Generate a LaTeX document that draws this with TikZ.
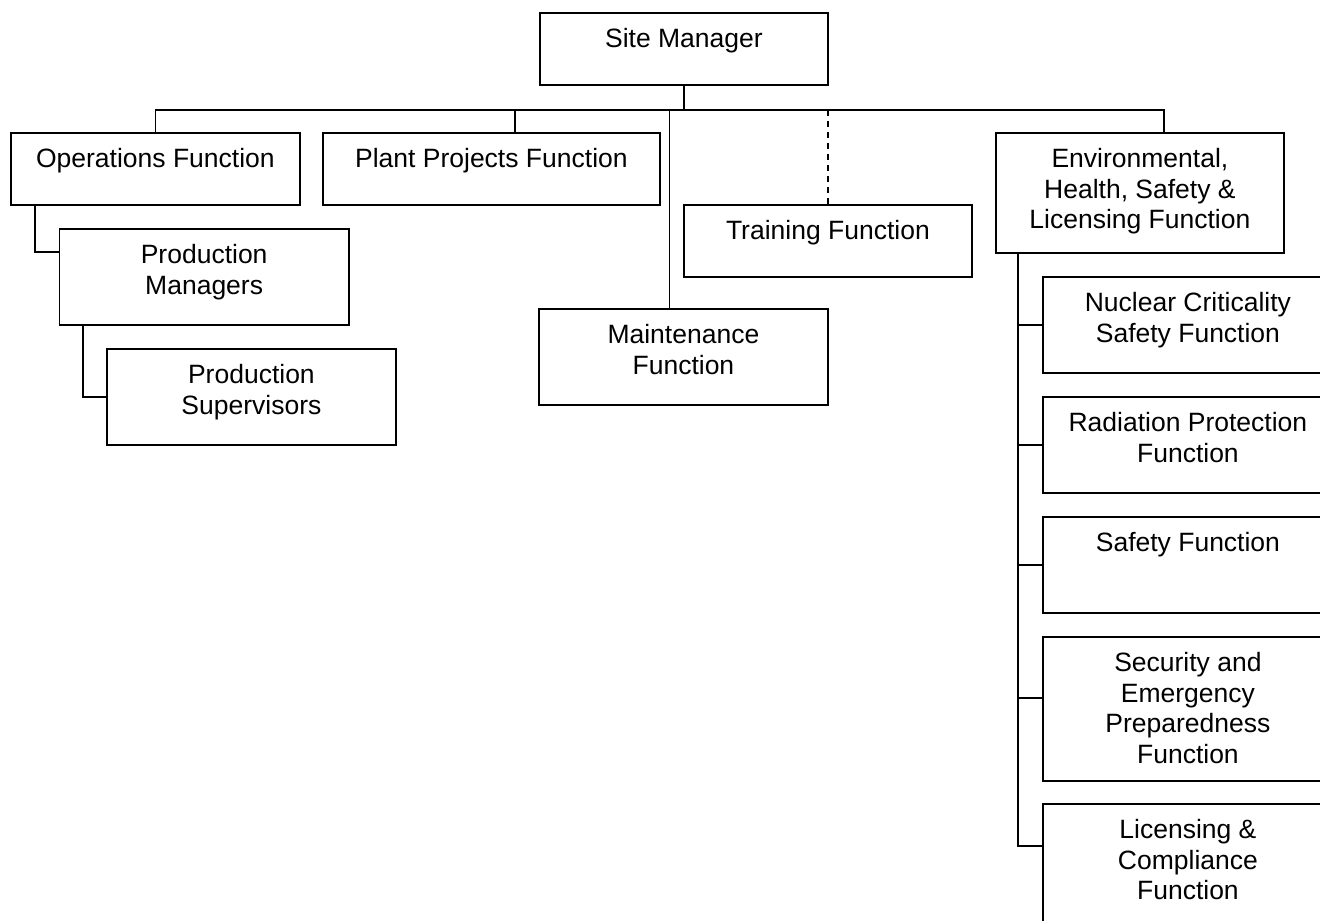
\documentclass[tikz,border=0pt]{standalone}
\usepackage{fontspec}
\setmainfont{Liberation Sans}
\usetikzlibrary{calc}
\begin{document}
\begin{tikzpicture}[x=0.5pt,y=-0.5pt,
  orgbox/.style={draw, line width=0.9pt, rectangle, inner sep=0pt, anchor=north west},
  lbl/.style={anchor=north, inner sep=0pt, align=center, font=\fontsize{13.25pt}{15.25pt}\selectfont},
  conn/.style={line width=0.9pt},
  dotconn/.style={line width=0.9pt, dash pattern=on 3pt off 2.5pt}]
\clip (0,0) rectangle (1320,920);
% boxes
\node[orgbox, minimum width=144pt, minimum height=36pt] (sm) at (539,12) {};
\node[orgbox, minimum width=144.5pt, minimum height=36pt] (ops) at (10,132) {};
\node[orgbox, minimum width=168.5pt, minimum height=36pt] (pp) at (322,132) {};
\node[orgbox, minimum width=144.75pt, minimum height=48pt] (pm) at (58.5,228) {};
\node[orgbox, minimum width=144.5pt, minimum height=48pt] (ps) at (106,348) {};
\node[orgbox, minimum width=144pt, minimum height=36pt] (train) at (683,204) {};
\node[orgbox, minimum width=144.5pt, minimum height=48pt] (maint) at (538,308) {};
\node[orgbox, minimum width=144pt, minimum height=60pt] (ehs) at (995,132) {};
\node[orgbox, minimum width=145pt, minimum height=48pt] (ncs) at (1042,276) {};
\node[orgbox, minimum width=145pt, minimum height=48pt] (rp) at (1042,396) {};
\node[orgbox, minimum width=145pt, minimum height=48pt] (saf) at (1042,516) {};
\node[orgbox, minimum width=145pt, minimum height=72pt] (sep) at (1042,636) {};
\node[orgbox, minimum width=145pt, minimum height=60pt] (lc) at (1042,803) {};
% texts
\node[lbl] (smT) at ($(sm.north)+(0,16)$) {Site Manager};
\node[lbl] (opsT) at ($(ops.north)+(0,16)$) {Operations Function};
\node[lbl] (ppT) at ($(pp.north)+(0,16)$) {Plant Projects Function};
\node[lbl] (pmT) at ($(pm.north)+(0,16)$) {Production\\Managers};
\node[lbl] (psT) at ($(ps.north)+(0,16)$) {Production\\Supervisors};
\node[lbl] (trainT) at ($(train.north)+(0,16)$) {Training Function};
\node[lbl] (maintT) at ($(maint.north)+(0,16)$) {Maintenance\\Function};
\node[lbl] (ehsT) at ($(ehs.north)+(0,16)$) {Environmental,\\Health, Safety \&\\Licensing Function};
\node[lbl] (ncsT) at ($(ncs.north)+(0,16)$) {Nuclear Criticality\\Safety Function};
\node[lbl] (rpT) at ($(rp.north)+(0,16)$) {Radiation Protection\\Function};
\node[lbl] (safT) at ($(saf.north)+(0,16)$) {Safety Function};
\node[lbl] (sepT) at ($(sep.north)+(0,16)$) {Security and\\Emergency\\Preparedness\\Function};
\node[lbl] (lcT) at ($(lc.north)+(0,16)$) {Licensing \&\\Compliance\\Function};
% connectors
\coordinate (bus) at ($(sm.south)+(0,24)$);
\draw[conn] (sm.south) -- (bus);
\draw[conn] (ops.north) |- (bus) -| ($(ehs.north)+(24,0)$);
\draw[conn] ($(pp.north west)+(193,0)$) |- (bus);
\draw[conn] ($(maint.north)+(-14,0)$) |- (bus);
\draw[dotconn] (train.north |- bus) -- (train.north);
\draw[conn] ($(ops.south west)+(25,0)$) |- ($(pm.north west)+(0,24)$);
\draw[conn] ($(pm.south west)+(24.5,0)$) |- ($(ps.north west)+(0,49)$);
\coordinate (trunk) at ($(ehs.south west)+(23,0)$);
\coordinate (sepj) at ($(sep.north west)+(0,62)$);
\coordinate (lcj) at ($(lc.north west)+(0,43)$);
\draw[conn] (trunk) |- (lcj);
\draw[conn] (trunk |- ncs.west) -- (ncs.west);
\draw[conn] (trunk |- rp.west) -- (rp.west);
\draw[conn] (trunk |- saf.west) -- (saf.west);
\draw[conn] (trunk |- sepj) -- (sepj);
\end{tikzpicture}
\end{document}
